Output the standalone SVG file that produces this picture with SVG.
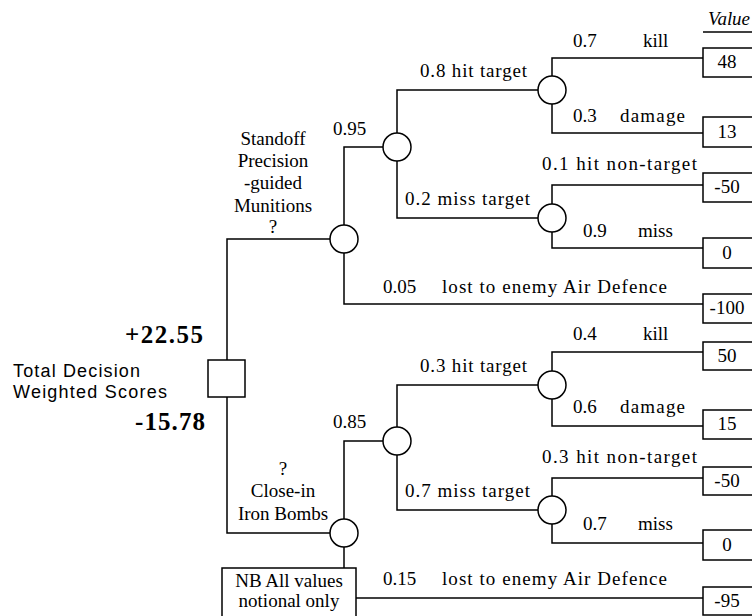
<svg xmlns="http://www.w3.org/2000/svg" width="752" height="616" viewBox="0 0 752 616">
<style>
.ln{fill:none;stroke:#000;stroke-width:1.5}
.ch{fill:#fff;stroke:#000;stroke-width:1.5}
.bx{fill:#fff;stroke:#000;stroke-width:1.5}
.t{font-family:"Liberation Serif","Times New Roman",serif;font-size:19px;fill:#000}
.c{text-anchor:middle}
.v{font-family:"Liberation Serif","Times New Roman",serif;font-size:19px;fill:#000;text-anchor:middle}
.s{font-family:"Liberation Sans",Arial,sans-serif;font-size:18px;fill:#000}
.b{font-family:"Liberation Serif","Times New Roman",serif;font-size:25px;font-weight:bold;fill:#000}
</style>
<rect width="752" height="616" fill="#fff"/>
<g id="connectors">
<path class="ln" d="M227 360 V239 H330"/>
<path class="ln" d="M227 397 V533 H330"/>
<path class="ln" d="M344 225 V147 H383"/>
<path class="ln" d="M344 253 V304 H703"/>
<path class="ln" d="M397 133 V90 H538"/>
<path class="ln" d="M397 161 V218 H538"/>
<path class="ln" d="M552 76 V58 H703"/>
<path class="ln" d="M552 104 V133 H703"/>
<path class="ln" d="M552 204 V185 H703"/>
<path class="ln" d="M552 232 V248 H703"/>
<path class="ln" d="M344 519 V441 H383"/>
<path class="ln" d="M344 547 V568"/>
<path class="ln" d="M356 598 H703"/>
<path class="ln" d="M397 427 V385 H538"/>
<path class="ln" d="M397 455 V510 H538"/>
<path class="ln" d="M552 371 V352 H703"/>
<path class="ln" d="M552 399 V426 H703"/>
<path class="ln" d="M552 496 V478 H703"/>
<path class="ln" d="M552 524 V543 H703"/>
</g>
<g id="decision">
<rect class="bx" x="208" y="360" width="37" height="37"/>
<text class="b" x="125" y="343" textLength="78">+22.55</text>
<text class="b" x="135" y="430" textLength="70">-15.78</text>
<text class="s" x="13" y="377" textLength="127">Total Decision</text>
<text class="s" x="13" y="398" textLength="154">Weighted Scores</text>
</g>
<g id="standoff">
<circle class="ch" cx="344" cy="239" r="14"/>
<text class="t c" x="273" y="145">Standoff</text>
<text class="t c" x="273" y="167">Precision</text>
<text class="t c" x="273" y="189">-guided</text>
<text class="t c" x="273" y="212">Munitions</text>
<text class="t c" x="273" y="233">?</text>
</g>
<g id="s-launch">
<circle class="ch" cx="397" cy="147" r="14"/>
<text class="t" x="333" y="135">0.95</text>
<text class="t" x="383" y="293">0.05</text>
<text class="t" x="442" y="293" textLength="225">lost to enemy Air Defence</text>
</g>
<g id="s-hit">
<circle class="ch" cx="552" cy="90" r="14"/>
<text class="t" x="420" y="77" textLength="107">0.8 hit target</text>
<text class="t" x="573" y="47">0.7</text>
<text class="t" x="643" y="47">kill</text>
<text class="t" x="573" y="122">0.3</text>
<text class="t" x="620" y="122" textLength="65">damage</text>
</g>
<g id="s-miss">
<circle class="ch" cx="552" cy="218" r="14"/>
<text class="t" x="405" y="205" textLength="125">0.2 miss target</text>
<text class="t" x="542" y="170" textLength="155">0.1  hit non-target</text>
<text class="t" x="583" y="237">0.9</text>
<text class="t" x="638" y="237">miss</text>
</g>
<g id="closein">
<circle class="ch" cx="344" cy="533" r="14"/>
<text class="t c" x="283" y="475">?</text>
<text class="t c" x="283" y="497">Close-in</text>
<text class="t c" x="283" y="520">Iron Bombs</text>
</g>
<g id="c-launch">
<circle class="ch" cx="397" cy="441" r="14"/>
<text class="t" x="333" y="428">0.85</text>
<text class="t" x="383" y="585">0.15</text>
<text class="t" x="442" y="585" textLength="225">lost to enemy Air Defence</text>
</g>
<g id="c-hit">
<circle class="ch" cx="552" cy="385" r="14"/>
<text class="t" x="420" y="372" textLength="107">0.3 hit target</text>
<text class="t" x="573" y="340">0.4</text>
<text class="t" x="643" y="340">kill</text>
<text class="t" x="573" y="413">0.6</text>
<text class="t" x="620" y="413" textLength="65">damage</text>
</g>
<g id="c-miss">
<circle class="ch" cx="552" cy="510" r="14"/>
<text class="t" x="405" y="497" textLength="125">0.7 miss target</text>
<text class="t" x="542" y="463" textLength="155">0.3  hit non-target</text>
<text class="t" x="583" y="530">0.7</text>
<text class="t" x="638" y="530">miss</text>
</g>
<g id="note">
<rect class="bx" x="222" y="568" width="134" height="60"/>
<text class="t c" x="289" y="587">NB All values</text>
<text class="t c" x="289" y="607">notional only</text>
</g>
<g id="values">
<text class="t" x="708" y="25" font-style="italic" textLength="42">Value</text>
<line class="ln" x1="703" y1="32" x2="752" y2="32"/>
<rect class="bx" x="703" y="48" width="60" height="29"/><text class="v" x="727" y="68">48</text>
<rect class="bx" x="703" y="117" width="60" height="30"/><text class="v" x="727" y="138">13</text>
<rect class="bx" x="703" y="173" width="60" height="29"/><text class="v" x="727" y="193">-50</text>
<rect class="bx" x="703" y="238" width="60" height="30"/><text class="v" x="727" y="259">0</text>
<rect class="bx" x="703" y="294" width="60" height="29"/><text class="v" x="727" y="314">-100</text>
<rect class="bx" x="703" y="342" width="60" height="28"/><text class="v" x="727" y="362">50</text>
<rect class="bx" x="703" y="410" width="60" height="29"/><text class="v" x="727" y="430">15</text>
<rect class="bx" x="703" y="467" width="60" height="28"/><text class="v" x="727" y="487">-50</text>
<rect class="bx" x="703" y="530" width="60" height="30"/><text class="v" x="727" y="551">0</text>
<rect class="bx" x="703" y="587" width="60" height="28"/><text class="v" x="727" y="607">-95</text>
</g>
</svg>
